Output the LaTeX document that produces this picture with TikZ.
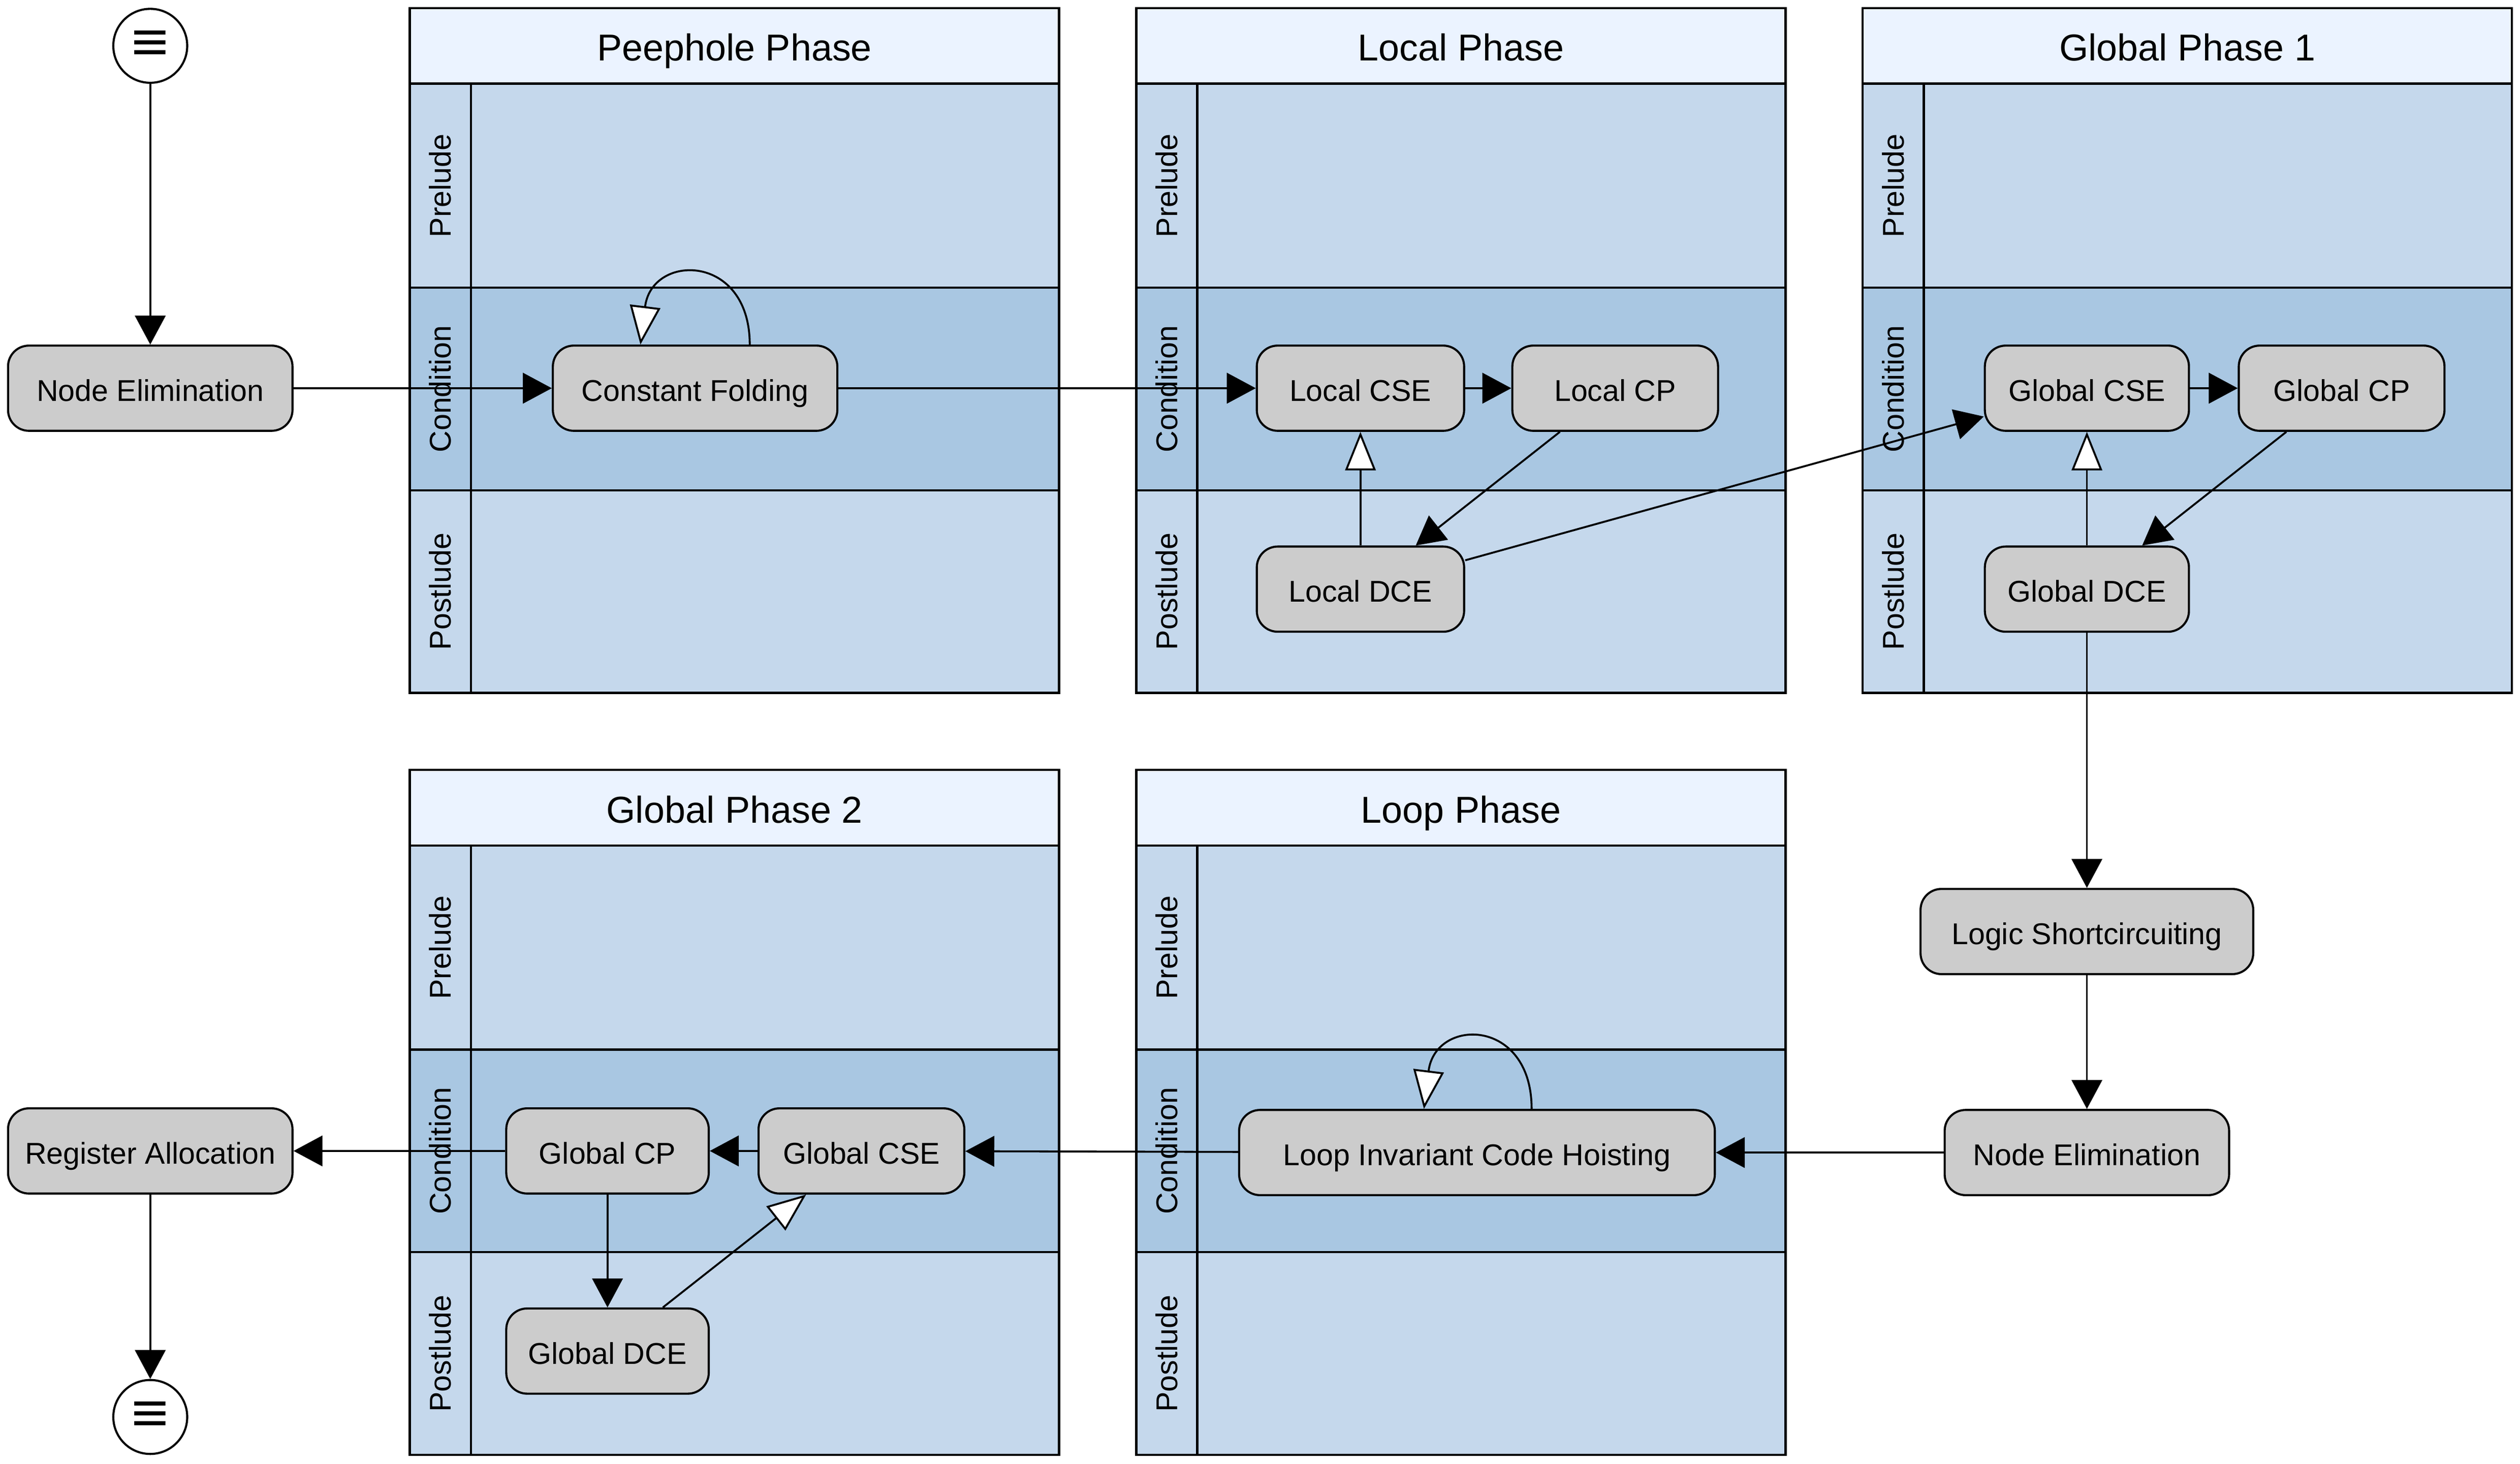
\documentclass[tikz,border=0pt]{standalone}
\usepackage{fontspec}
\setmainfont{Liberation Sans}
\usetikzlibrary{arrows.meta}
\definecolor{hdr}{RGB}{235,243,255}
\definecolor{lanel}{RGB}{197,216,236}
\definecolor{laned}{RGB}{169,199,226}
\definecolor{nodegray}{RGB}{204,204,204}
\tikzset{
  poolline/.style={line width=1.4pt},
  pooltitle/.style={font=\fontsize{23.3pt}{28pt}\selectfont, inner sep=0pt, text height=16.7pt, text depth=0pt},
  lanelab/.style={font=\fontsize{18.7pt}{22pt}\selectfont, rotate=90, inner sep=0pt, text height=13.4pt, text depth=0pt},
  box/.style={draw, line width=1.3pt, fill=nodegray, rounded corners=13pt,
    minimum height=53pt, inner sep=0pt, text height=16pt, text depth=0pt,
    font=\fontsize{18.7pt}{22pt}\selectfont},
  term/.style={draw, circle, line width=1.3pt, fill=white, minimum size=46pt, inner sep=0pt,
    font=\fontsize{40pt}{40pt}\selectfont},
  edge/.style={line width=1.2pt, -{Triangle[length=18pt,width=19pt]}},
  openedge/.style={line width=1.2pt, -{Triangle[length=24pt,width=19pt,fill=white]}},
}
\newcommand\mypool[4]{%
  \begin{scope}[shift={(#1,#2)}]
    \fill[hdr] (0,0) rectangle (404,47);
    \fill[lanel] (0,47) rectangle (404,174);
    \fill[laned] (0,174) rectangle (404,300);
    \fill[lanel] (0,300) rectangle (404,426);
    \draw[poolline] (0,47) -- (404,47) (0,174) -- (404,174) (0,300) -- (404,300) (38,47) -- (38,426);
    \draw[poolline] (0,0) rectangle (404,426);
    \node[pooltitle] (#4t) at (202,24.5) {#3};
    \node[lanelab] (#4p) at (19,110.5) {Prelude};
    \node[lanelab] (#4c) at (19,237) {Condition};
    \node[lanelab] (#4o) at (19,363) {Postlude};
  \end{scope}}
\begin{document}
\begin{tikzpicture}[x=1pt,y=-1pt]
\useasboundingbox (0,0) rectangle (1568,910.5);
% pools
\mypool{255}{5}{Peephole Phase}{pp}
\mypool{707}{5}{Local Phase}{lp}
\mypool{1159}{5}{Global Phase 1}{gpa}
\mypool{255}{479}{Global Phase 2}{gpb}
\mypool{707}{479}{Loop Phase}{lo}
% nodes
\node[term] (startc) at (93.5,28.5) {\scalebox{1}[0.88]{≡}};
\node[box, minimum width=177pt] (ne1) at (93.5,241.5) {Node Elimination};
\node[box, minimum width=177pt] (cf) at (432.5,241.5) {Constant Folding};
\node[box, minimum width=129pt] (lcse) at (846.5,241.5) {Local CSE};
\node[box, minimum width=128pt] (lcp) at (1005,241.5) {Local CP};
\node[box, minimum width=129pt] (ldce) at (846.5,366.5) {Local DCE};
\node[box, minimum width=127pt] (gcsea) at (1298.5,241.5) {Global CSE};
\node[box, minimum width=128pt] (gcpa) at (1457,241.5) {Global CP};
\node[box, minimum width=127pt] (gdcea) at (1298.5,366.5) {Global DCE};
\node[box, minimum width=207pt] (ls) at (1298.5,579.5) {Logic Shortcircuiting};
\node[box, minimum width=177pt] (ne2) at (1298.5,717) {Node Elimination};
\node[box, minimum width=296pt] (lich) at (919,717) {Loop Invariant Code Hoisting};
\node[box, minimum width=128pt] (gcseb) at (536,716) {Global CSE};
\node[box, minimum width=126pt] (gcpb) at (378,716) {Global CP};
\node[box, minimum width=126pt] (gdceb) at (378,840.5) {Global DCE};
\node[box, minimum width=177pt] (ra) at (93.5,716) {Register Allocation};
\node[term] (endc) at (93.5,881.5) {\scalebox{1}[0.88]{≡}};
% edges
\draw[edge] (startc) -- (ne1);
\draw[edge] (ne1) -- (cf);
\draw[openedge] ([xshift=34pt]cf.north) .. controls +(0,-57) and +(7,-57) .. ([xshift=-34pt]cf.north);
\draw[edge] (cf) -- (lcse);
\draw[edge] (lcse) -- (lcp);
\draw[edge] (lcp) -- (ldce);
\draw[openedge] (ldce) -- (lcse);
\draw[edge] (ldce) -- (gcsea);
\draw[edge] (gcsea) -- (gcpa);
\draw[edge] (gcpa) -- (gdcea);
\draw[openedge] (gdcea) -- (gcsea);
\draw[edge] (gdcea) -- (ls);
\draw[edge] (ls) -- (ne2);
\draw[edge] (ne2) -- (lich);
\draw[openedge] ([xshift=34pt]lich.north) .. controls +(0,-57) and +(7,-57) .. ([xshift=-33pt]lich.north);
\draw[edge] (lich) -- (gcseb);
\draw[edge] (gcseb) -- (gcpb);
\draw[edge] (gcpb) -- (gdceb);
\draw[openedge] (gdceb) -- (gcseb);
\draw[edge] (gcpb) -- (ra);
\draw[edge] (ra) -- (endc);
\end{tikzpicture}
\end{document}
